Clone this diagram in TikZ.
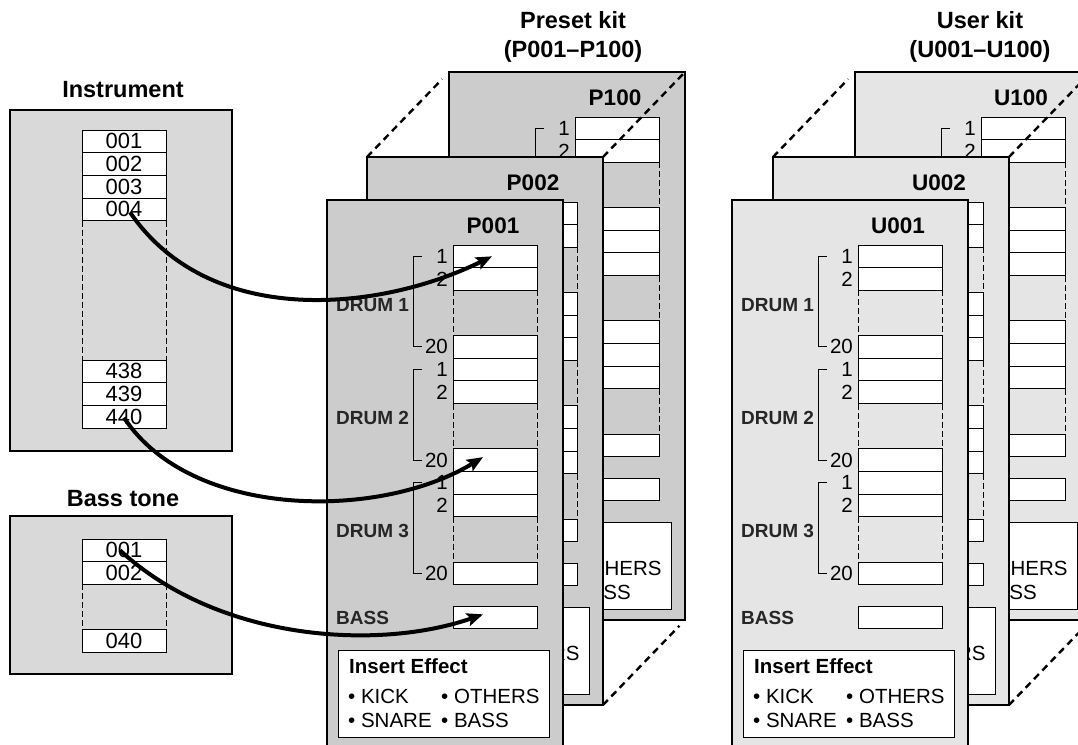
\documentclass[tikz,border=0pt]{standalone}
\usepackage{fontspec}
\setmainfont{Liberation Sans}
\usetikzlibrary{arrows.meta, positioning}
\definecolor{instgray}{gray}{0.85}
\definecolor{presetgray}{gray}{0.80}
\definecolor{usergray}{gray}{0.90}
\tikzstyle{panel} = [draw, line width=2.2pt, inner sep=0pt, outer sep=0pt,
    minimum width=222pt, anchor=north west]
\tikzstyle{kitbox} = [draw, line width=2.2pt, inner sep=0pt, outer sep=0pt,
    minimum width=236pt, minimum height=548pt, anchor=north west]
\tikzstyle{slot} = [draw, fill=white, line width=0.9pt, inner sep=0pt, outer sep=0pt,
    minimum width=84pt, minimum height=22.65pt, font=\fontsize{22}{22}\selectfont]
\tikzstyle{fxbox} = [draw, fill=white, line width=1pt, inner sep=0pt, outer sep=0pt,
    minimum width=211pt, minimum height=87pt, anchor=north west]
\tikzstyle{heading} = [align=center, font=\fontsize{23.5}{29}\selectfont\bfseries]
\tikzstyle{kitname} = [inner sep=0pt, font=\fontsize{22.5}{22.5}\selectfont\bfseries]
\tikzstyle{drumname} = [inner sep=0pt, anchor=west, text=black!85,
    font=\fontsize{19}{19}\selectfont\bfseries]
\tikzstyle{num} = [inner sep=0pt, font=\fontsize{20.5}{20.5}\selectfont]
\tikzstyle{fxtext} = [inner sep=0pt, anchor=west, font=\fontsize{20.5}{20.5}\selectfont]
\tikzstyle{fxhead} = [fxtext, font=\fontsize{20.5}{20.5}\selectfont\bfseries]
\tikzstyle{gapline} = [line width=0.9pt, dash pattern=on 6pt off 3pt]
\tikzstyle{bracket} = [line width=1pt]
\tikzstyle{persp} = [line width=2.4pt, dash pattern=on 7pt off 5pt]
\tikzstyle{arr} = [-{Stealth[length=16pt, width=13pt, inset=3pt]}, line width=4pt]

% one drum kit sheet: #1 name, #2 left, #3 top, #4 fill
\newcommand{\kitpanel}[4]{%
  \begin{scope}[shift={(#2,#3)}]
    \node[kitbox, fill=#4] (#1) at (0,0) {};
    \node[kitname] (#1-name) at (166,26) {#1};
    \foreach \g in {1,2,3} {
      \pgfmathsetmacro{\gy}{45+113.2*(\g-1)}
      \node[slot, anchor=north west] (#1-d\g-1) at (126,\gy) {};
      \node[slot, below=0pt of #1-d\g-1] (#1-d\g-2) {};
      \node[slot, below=45.3pt of #1-d\g-2] (#1-d\g-20) {};
      \draw[gapline] (#1-d\g-2.south west) -- (#1-d\g-20.north west)
        (#1-d\g-2.south east) -- (#1-d\g-20.north east);
      \node[num, left=5pt of #1-d\g-1] (#1-n\g-1) {1};
      \node[num, left=5pt of #1-d\g-2] (#1-n\g-2) {2};
      \node[num, left=5pt of #1-d\g-20] (#1-n\g-20) {20};
      \draw[bracket] ([xshift=-31pt]#1-d\g-1.west) -- ++(-9pt,0pt)
        |- ([xshift=-31pt]#1-d\g-20.west);
      \node[drumname] (#1-l\g) at (9,\gy+60) {DRUM \g};
    }
    \node[slot, anchor=north west] (#1-bass) at (126,406) {};
    \node[drumname] (#1-lb) at (9,417.5) {BASS};
    \node[fxbox] (#1-fx) at (11,450) {};
    \node[fxhead] (#1-fxh) at (22,466) {Insert Effect};
    \node[fxtext] (#1-kick) at (21,496) {• KICK};
    \node[fxtext] (#1-others) at (114,496) {• OTHERS};
    \node[fxtext] (#1-snare) at (21,520) {• SNARE};
    \node[fxtext] (#1-bs) at (114,520) {• BASS};
  \end{scope}}

\begin{document}
\begin{tikzpicture}[x=1pt, y=-1pt]
  \path[use as bounding box] (0,0) rectangle (1078,744);
  \clip (0,0) rectangle (1078,744);

  % Instrument list
  \node[heading] (inst-title) at (123,90) {Instrument};
  \node[panel, fill=instgray, minimum height=341pt] (inst) at (10,110) {};
  \node[slot, anchor=north west] (i001) at (82,130) {001};
  \node[slot, below=0pt of i001] (i002) {002};
  \node[slot, below=0pt of i002] (i003) {003};
  \node[slot, below=0pt of i003] (i004) {004};
  \node[slot, anchor=north west] (i438) at (82,360) {438};
  \node[slot, below=0pt of i438] (i439) {439};
  \node[slot, below=0pt of i439] (i440) {440};
  \draw[gapline] (i004.south west) -- (i438.north west)
    (i004.south east) -- (i438.north east);

  % Bass tone list
  \node[heading] (bass-title) at (123,499) {Bass tone};
  \node[panel, fill=instgray, minimum height=158pt] (bass) at (10,516) {};
  \node[slot, anchor=north west] (b001) at (82,539) {001};
  \node[slot, below=0pt of b001] (b002) {002};
  \node[slot, below=45pt of b002] (b040) {040};
  \draw[gapline] (b002.south west) -- (b040.north west)
    (b002.south east) -- (b040.north east);

  % Preset kits
  \node[heading] (preset-title) at (573,37) {Preset kit\\(P001--P100)};
  \kitpanel{P100}{449}{72}{presetgray}
  \kitpanel{P002}{367}{157}{presetgray}
  \kitpanel{P001}{327}{200}{presetgray}

  % User kits
  \node[heading] (user-title) at (980,37) {User kit\\(U001--U100)};
  \kitpanel{U100}{855}{72}{usergray}
  \kitpanel{U002}{773}{157}{usergray}
  \kitpanel{U001}{732}{200}{usergray}

  % stack depth lines
  \draw[persp, shorten >=10pt] (P002.north west) -- (P100.north west);
  \draw[persp, shorten >=2pt] (P002.north east) -- (P100.north east);
  \draw[persp, shorten >=8pt] (P002.south east) -- (P100.south east);
  \draw[persp, shorten >=10pt] (U002.north west) -- (U100.north west);
  \draw[persp, shorten >=2pt] (U002.north east) -- (U100.north east);
  \draw[persp, shorten >=8pt] (U002.south east) -- (U100.south east);

  % Arrows
  \draw[arr] ([xshift=6pt,yshift=-3pt]i004.center) .. controls +(80,117) and +(-112,55)
    .. ([xshift=-3pt]P001-d1-1.center);
  \draw[arr] ([yshift=-1pt]i440.center) .. controls +(67,102) and +(-103,63)
    .. ([xshift=-12pt,yshift=3pt]P001-d2-20.center);
  \draw[arr] ([xshift=-4pt]b001.center) .. controls +(100,92) and +(-103,36)
    .. ([xshift=-12pt,yshift=3pt]P001-bass.center);
\end{tikzpicture}
\end{document}
